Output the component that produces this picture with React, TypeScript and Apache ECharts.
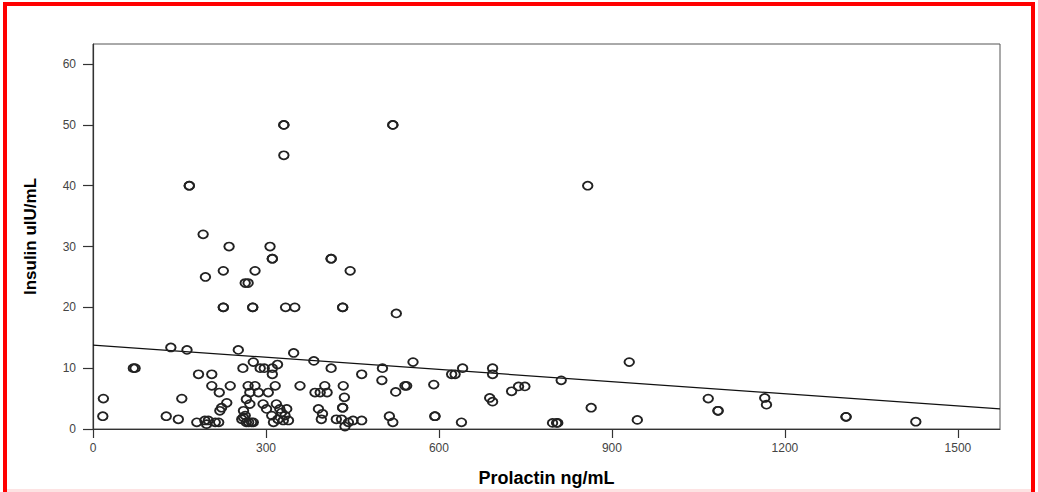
import React, { useEffect, useRef } from "react";
import * as echarts from "echarts";

// Prolactin (ng/mL) values of each case
const prolactin: number[] = [
  331, 331, 520, 520, 331, 167, 167, 858, 191, 236, 307, 311, 311, 413, 413, 195, 226, 281, 446, 264, 269,
  226, 226, 277, 277, 334, 350, 433, 433, 526,
  135, 163, 252, 348, 383, 555, 930, 278, 320, 70, 73, 260, 290, 297, 311, 413, 502, 641, 693,
  183, 206, 311, 466, 622, 628, 693, 501, 812,
  206, 238, 219, 269, 281, 316, 272, 287, 304, 359, 385, 394, 406, 402, 434, 436, 433, 433, 431, 443, 437,
  18, 154, 266, 272, 295, 301, 310, 318, 324, 327, 336, 333, 321, 330, 339, 313, 391, 396, 398, 422,
  223, 232, 220, 261, 264, 258, 266, 278, 270, 275, 261,
  17, 127, 148, 180, 194, 200, 197, 212, 218,
  451, 466, 525, 541, 544, 591, 514, 520, 593, 593, 639, 726, 738, 749, 688, 693, 864, 944, 797, 804, 806,
  1067, 1084, 1084, 1165, 1168, 1306, 1306, 1427,
];

// Insulin (uIU/mL) values of each case, same order
const insulin: number[] = [
  50, 50, 50, 50, 45, 40, 40, 40, 32, 30, 30, 28, 28, 28, 28, 25, 26, 26, 26, 24, 24,
  20, 20, 20, 20, 20, 20, 20, 20, 19,
  13.4, 13, 13, 12.5, 11.2, 11, 11, 11, 10.6, 10, 10, 10, 10, 10, 10, 10, 10, 10, 10,
  9, 9, 9, 9, 9, 9, 9, 8, 8,
  7.1, 7.1, 6, 7.1, 7.1, 7.1, 6, 6, 6, 7.1, 6, 6, 6, 7.1, 7.1, 5.2, 3.5, 3.5, 1.6, 1.1, 0.4,
  5, 5, 4.9, 4.1, 4.1, 3.3, 2.2, 4.1, 3.3, 2.7, 3.3, 2.2, 1.6, 1.4, 1.4, 1.1, 3.3, 1.6, 2.5, 1.6,
  3.5, 4.3, 3, 3, 2.2, 1.6, 1.1, 1.1, 1.1, 1.1, 1.9,
  2.1, 2.1, 1.6, 1.1, 1.4, 1.4, 0.8, 1.1, 1.1,
  1.4, 1.4, 6.1, 7.1, 7.1, 7.3, 2.1, 1.1, 2.1, 2.1, 1.1, 6.2, 7, 7, 5.1, 4.5, 3.5, 1.5, 1, 1, 1,
  5, 3, 3, 5.1, 4, 2, 2, 1.2,
];

// Fitted linear regression line end points
const fitX: number[] = [0, 1573];
const fitY: number[] = [13.8, 3.3];

const xTicks: number[] = [0, 300, 600, 900, 1200, 1500];
const yTicks: number[] = [0, 10, 20, 30, 40, 50, 60];

const X_MAX = 1573;
const Y_MAX = 63.3;

export default function App() {
  const ref = useRef<HTMLDivElement>(null);

  useEffect(() => {
    if (!ref.current) return;
    const chart = echarts.init(ref.current, undefined, { renderer: "svg" });
    const points = prolactin.map((x, i) => [x, insulin[i]]);
    const fit = fitX.map((x, i) => [x, fitY[i]]);
    const baseFont = "'Liberation Sans', Arial, sans-serif";
    chart.setOption({
      animation: false,
      backgroundColor: "#ffffff",
      grid: {
        left: 93,
        right: 38,
        top: 44,
        bottom: 62,
        show: true,
        borderColor: "#555555",
        borderWidth: 1,
        backgroundColor: "transparent",
      },
      xAxis: {
        type: "value",
        min: 0,
        max: X_MAX,
        name: "Prolactin ng/mL",
        nameLocation: "middle",
        nameGap: 40,
        nameTextStyle: {
          fontFamily: baseFont,
          fontWeight: "bold",
          fontSize: 18,
          color: "#000000",
        },
        axisLine: { show: true, onZero: false, lineStyle: { color: "#333333", width: 1.2 } },
        axisTick: {
          show: true,
          length: 9,
          customValues: xTicks,
          lineStyle: { color: "#333333", width: 1.2 },
        },
        axisLabel: {
          customValues: xTicks,
          margin: 13,
          fontFamily: baseFont,
          fontSize: 12,
          color: "#444444",
          formatter: (v: number) => String(v),
        },
        splitLine: { show: false },
      },
      yAxis: {
        type: "value",
        min: 0,
        max: Y_MAX,
        name: "Insulin uIU/mL",
        nameLocation: "middle",
        nameGap: 54,
        nameRotate: 90,
        nameTextStyle: {
          fontFamily: baseFont,
          fontWeight: "bold",
          fontSize: 17,
          color: "#000000",
        },
        axisLine: { show: true, onZero: false, lineStyle: { color: "#333333", width: 1.2 } },
        axisTick: {
          show: true,
          length: 10,
          customValues: yTicks,
          lineStyle: { color: "#333333", width: 1.2 },
        },
        axisLabel: {
          customValues: yTicks,
          margin: 17,
          fontFamily: baseFont,
          fontSize: 12,
          color: "#444444",
          formatter: (v: number) => String(v),
        },
        splitLine: { show: false },
      },
      series: [
        {
          type: "scatter",
          data: points,
          symbol: "circle",
          symbolSize: [9.5, 8],
          itemStyle: {
            color: "rgba(255,255,255,0)",
            borderColor: "#222222",
            borderWidth: 1.8,
            opacity: 1,
          },
          z: 3,
        },
        {
          type: "line",
          data: fit,
          symbol: "none",
          lineStyle: { color: "#111111", width: 1.2 },
          z: 2,
        },
      ],
      graphic: [
        { type: "rect", shape: { x: 3, y: 2, width: 1032, height: 4 }, style: { fill: "#ff0000" } },
        { type: "rect", shape: { x: 3, y: 2, width: 4, height: 490 }, style: { fill: "#ff0000" } },
        { type: "rect", shape: { x: 1031, y: 2, width: 4, height: 490 }, style: { fill: "#ff0000" } },
        { type: "rect", shape: { x: 7, y: 489, width: 1024, height: 3 }, style: { fill: "#fde3e3" } },
      ],
    });
    return () => chart.dispose();
  }, []);

  return (
    <div
      ref={ref}
      style={{ position: "fixed", left: 0, top: 0, width: 1038, height: 492, background: "#fff" }}
    />
  );
}
